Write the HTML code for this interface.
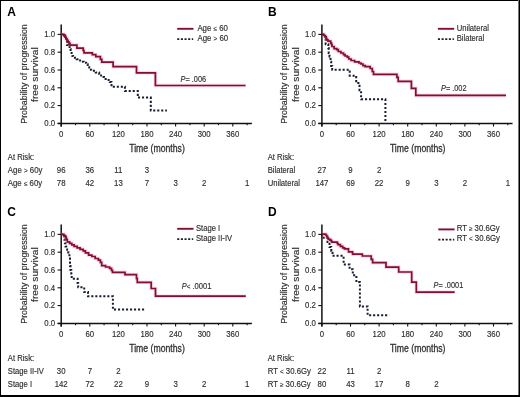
<!DOCTYPE html>
<html><head><meta charset="utf-8"><style>
html,body{margin:0;padding:0;background:#fff;}
body{width:520px;height:397px;overflow:hidden;position:relative;}
svg{position:absolute;left:0;top:0;filter:blur(0.3px);}
text{font-family:"Liberation Sans", sans-serif;fill:#303030;stroke:#303030;stroke-width:0.16px;}
.sm{font-size:8.6px;}
.sym{font-size:7.0px;}
.yl{font-size:9.0px;}
.xl{font-size:10.1px;stroke-width:0.3px;}
.lt{font-size:12px;font-weight:bold;fill:#000;stroke:none;}
.ax{stroke:#111;stroke-width:1.5;fill:none;}
.tk{stroke:#111;stroke-width:1.1;fill:none;}
.rd{stroke:#830e33;stroke-width:1.7;fill:none;stroke-linejoin:miter;}
.rdh{stroke:rgba(235,120,160,0.30);stroke-width:3.6;fill:none;}
.bl{stroke:#161f30;stroke-width:2.0;fill:none;stroke-dasharray:2.1 1.9;}
.rdl{stroke:#830e33;stroke-width:1.9;}
.bll{stroke:#1c2232;stroke-width:1.8;stroke-dasharray:2.1 1.55;}
</style></head><body>
<svg width="520" height="397" viewBox="0 0 520 397">
<rect x="0" y="0" width="520" height="397" fill="#fff"/>
<text x="7.20" y="16.20" class="lt">A</text>
<text transform="translate(26.50,74.00) rotate(-90)" class="yl" text-anchor="middle" textLength="99.5" lengthAdjust="spacingAndGlyphs">Probability of progression</text>
<text transform="translate(37.90,74.60) rotate(-90)" class="yl" text-anchor="middle" textLength="54.6" lengthAdjust="spacingAndGlyphs">free survival</text>
<line x1="61.2" y1="24.50" x2="61.2" y2="126.60" class="ax"/>
<line x1="57.60" y1="123.4" x2="251.87" y2="123.4" class="ax"/>
<line x1="57.60" y1="123.40" x2="61.2" y2="123.40" class="tk"/>
<text x="55.20" y="126.20" class="sm" text-anchor="end" textLength="10.84" lengthAdjust="spacingAndGlyphs">0.0</text>
<line x1="57.60" y1="105.60" x2="61.2" y2="105.60" class="tk"/>
<text x="55.20" y="108.40" class="sm" text-anchor="end" textLength="10.84" lengthAdjust="spacingAndGlyphs">0.2</text>
<line x1="57.60" y1="87.80" x2="61.2" y2="87.80" class="tk"/>
<text x="55.20" y="90.60" class="sm" text-anchor="end" textLength="10.84" lengthAdjust="spacingAndGlyphs">0.4</text>
<line x1="57.60" y1="70.00" x2="61.2" y2="70.00" class="tk"/>
<text x="55.20" y="72.80" class="sm" text-anchor="end" textLength="10.84" lengthAdjust="spacingAndGlyphs">0.6</text>
<line x1="57.60" y1="52.20" x2="61.2" y2="52.20" class="tk"/>
<text x="55.20" y="55.00" class="sm" text-anchor="end" textLength="10.84" lengthAdjust="spacingAndGlyphs">0.8</text>
<line x1="57.60" y1="34.40" x2="61.2" y2="34.40" class="tk"/>
<text x="55.20" y="37.20" class="sm" text-anchor="end" textLength="10.84" lengthAdjust="spacingAndGlyphs">1.0</text>
<line x1="61.20" y1="123.4" x2="61.20" y2="126.60" class="tk"/>
<text x="61.20" y="136.60" class="sm" text-anchor="middle" textLength="4.34" lengthAdjust="spacingAndGlyphs">0</text>
<line x1="75.50" y1="123.4" x2="75.50" y2="125.20" class="tk"/>
<line x1="89.80" y1="123.4" x2="89.80" y2="126.60" class="tk"/>
<text x="89.80" y="136.60" class="sm" text-anchor="middle" textLength="8.68" lengthAdjust="spacingAndGlyphs">60</text>
<line x1="104.10" y1="123.4" x2="104.10" y2="125.20" class="tk"/>
<line x1="118.40" y1="123.4" x2="118.40" y2="126.60" class="tk"/>
<text x="118.40" y="136.60" class="sm" text-anchor="middle" textLength="13.01" lengthAdjust="spacingAndGlyphs">120</text>
<line x1="132.70" y1="123.4" x2="132.70" y2="125.20" class="tk"/>
<line x1="147.00" y1="123.4" x2="147.00" y2="126.60" class="tk"/>
<text x="147.00" y="136.60" class="sm" text-anchor="middle" textLength="13.01" lengthAdjust="spacingAndGlyphs">180</text>
<line x1="161.30" y1="123.4" x2="161.30" y2="125.20" class="tk"/>
<line x1="175.60" y1="123.4" x2="175.60" y2="126.60" class="tk"/>
<text x="175.60" y="136.60" class="sm" text-anchor="middle" textLength="13.01" lengthAdjust="spacingAndGlyphs">240</text>
<line x1="189.90" y1="123.4" x2="189.90" y2="125.20" class="tk"/>
<line x1="204.20" y1="123.4" x2="204.20" y2="126.60" class="tk"/>
<text x="204.20" y="136.60" class="sm" text-anchor="middle" textLength="13.01" lengthAdjust="spacingAndGlyphs">300</text>
<line x1="218.50" y1="123.4" x2="218.50" y2="125.20" class="tk"/>
<line x1="232.80" y1="123.4" x2="232.80" y2="126.60" class="tk"/>
<text x="232.80" y="136.60" class="sm" text-anchor="middle" textLength="13.01" lengthAdjust="spacingAndGlyphs">360</text>
<line x1="247.10" y1="123.4" x2="247.10" y2="125.20" class="tk"/>
<path d="M61.2,34.4H64.3V35.5H65.3V38H66.2V41H67V45H68.5V47H69.6V49.1H70.6V51.5H71.6V54.1H72.4V56H73.1V57.7H76.6V59.2H80.1V61.7H83.7V62.7H86.2V64.2H87.7V67.2H89.2V69.7H91.2V70.7H95.7V72.5H99.2V74.1H101.1V77H104V79H106.8V80H109.8V82.1H111.5V86.8H124.9V90.9H137.8V97.6H150.8V110.4H166.9V110.4" class="bl"/>
<path d="M61.2,34.4H64V35.6H65V37.2H66V38.8H67V40.4H68V41.9H69V43.4H70V45.1H76.9V48.2H83.2V50.5H84V52.8H92.3V54.7H95.8V56.6H100.4V59.3H101.8V62.2H113.1V66.6H136.5V72.8H155.4V85.5H245.6" class="rdh"/>
<path d="M61.2,34.4H64V35.6H65V37.2H66V38.8H67V40.4H68V41.9H69V43.4H70V45.1H76.9V48.2H83.2V50.5H84V52.8H92.3V54.7H95.8V56.6H100.4V59.3H101.8V62.2H113.1V66.6H136.5V72.8H155.4V85.5H245.6" class="rd"/>
<line x1="177.20" y1="28.80" x2="193.50" y2="28.80" class="rdl"/>
<text x="197.40" y="30.60" class="sm" textLength="30.57" lengthAdjust="spacingAndGlyphs">Age <tspan class="sym">≤</tspan> 60</text>
<line x1="177.20" y1="39.10" x2="193.20" y2="39.10" class="bll"/>
<text x="197.40" y="40.60" class="sm" textLength="30.84" lengthAdjust="spacingAndGlyphs">Age <tspan class="sym">&gt;</tspan> 60</text>
<text x="180.60" y="82.20" class="sm" font-style="italic" textLength="4.90" lengthAdjust="spacingAndGlyphs">P</text>
<text x="185.50" y="82.20" class="sm" textLength="20.64" lengthAdjust="spacingAndGlyphs">= .006</text>
<text x="157.00" y="151.70" class="xl" text-anchor="middle" textLength="55.6" lengthAdjust="spacingAndGlyphs">Time (months)</text>
<text x="7.80" y="159.80" class="sm" textLength="26.35" lengthAdjust="spacingAndGlyphs">At Risk:</text>
<text x="7.80" y="173.00" class="sm" textLength="34.66" lengthAdjust="spacingAndGlyphs">Age <tspan class="sym">&gt;</tspan> 60y</text>
<text x="61.20" y="173.00" class="sm" text-anchor="middle" textLength="8.68" lengthAdjust="spacingAndGlyphs">96</text>
<text x="89.80" y="173.00" class="sm" text-anchor="middle" textLength="8.68" lengthAdjust="spacingAndGlyphs">36</text>
<text x="118.40" y="173.00" class="sm" text-anchor="middle" textLength="8.10" lengthAdjust="spacingAndGlyphs">11</text>
<text x="147.00" y="173.00" class="sm" text-anchor="middle" textLength="4.34" lengthAdjust="spacingAndGlyphs">3</text>
<text x="7.80" y="186.10" class="sm" textLength="34.40" lengthAdjust="spacingAndGlyphs">Age <tspan class="sym">≤</tspan> 60y</text>
<text x="61.20" y="186.10" class="sm" text-anchor="middle" textLength="8.68" lengthAdjust="spacingAndGlyphs">78</text>
<text x="89.80" y="186.10" class="sm" text-anchor="middle" textLength="8.68" lengthAdjust="spacingAndGlyphs">42</text>
<text x="118.40" y="186.10" class="sm" text-anchor="middle" textLength="8.68" lengthAdjust="spacingAndGlyphs">13</text>
<text x="147.00" y="186.10" class="sm" text-anchor="middle" textLength="4.34" lengthAdjust="spacingAndGlyphs">7</text>
<text x="175.60" y="186.10" class="sm" text-anchor="middle" textLength="4.34" lengthAdjust="spacingAndGlyphs">3</text>
<text x="204.20" y="186.10" class="sm" text-anchor="middle" textLength="4.34" lengthAdjust="spacingAndGlyphs">2</text>
<text x="247.10" y="186.10" class="sm" text-anchor="middle" textLength="4.34" lengthAdjust="spacingAndGlyphs">1</text>
<text x="267.90" y="16.20" class="lt">B</text>
<text transform="translate(287.20,74.00) rotate(-90)" class="yl" text-anchor="middle" textLength="99.5" lengthAdjust="spacingAndGlyphs">Probability of progression</text>
<text transform="translate(298.60,74.60) rotate(-90)" class="yl" text-anchor="middle" textLength="54.6" lengthAdjust="spacingAndGlyphs">free survival</text>
<line x1="321.9" y1="24.50" x2="321.9" y2="126.60" class="ax"/>
<line x1="318.30" y1="123.4" x2="512.57" y2="123.4" class="ax"/>
<line x1="318.30" y1="123.40" x2="321.9" y2="123.40" class="tk"/>
<text x="315.90" y="126.20" class="sm" text-anchor="end" textLength="10.84" lengthAdjust="spacingAndGlyphs">0.0</text>
<line x1="318.30" y1="105.60" x2="321.9" y2="105.60" class="tk"/>
<text x="315.90" y="108.40" class="sm" text-anchor="end" textLength="10.84" lengthAdjust="spacingAndGlyphs">0.2</text>
<line x1="318.30" y1="87.80" x2="321.9" y2="87.80" class="tk"/>
<text x="315.90" y="90.60" class="sm" text-anchor="end" textLength="10.84" lengthAdjust="spacingAndGlyphs">0.4</text>
<line x1="318.30" y1="70.00" x2="321.9" y2="70.00" class="tk"/>
<text x="315.90" y="72.80" class="sm" text-anchor="end" textLength="10.84" lengthAdjust="spacingAndGlyphs">0.6</text>
<line x1="318.30" y1="52.20" x2="321.9" y2="52.20" class="tk"/>
<text x="315.90" y="55.00" class="sm" text-anchor="end" textLength="10.84" lengthAdjust="spacingAndGlyphs">0.8</text>
<line x1="318.30" y1="34.40" x2="321.9" y2="34.40" class="tk"/>
<text x="315.90" y="37.20" class="sm" text-anchor="end" textLength="10.84" lengthAdjust="spacingAndGlyphs">1.0</text>
<line x1="321.90" y1="123.4" x2="321.90" y2="126.60" class="tk"/>
<text x="321.90" y="136.60" class="sm" text-anchor="middle" textLength="4.34" lengthAdjust="spacingAndGlyphs">0</text>
<line x1="336.20" y1="123.4" x2="336.20" y2="125.20" class="tk"/>
<line x1="350.50" y1="123.4" x2="350.50" y2="126.60" class="tk"/>
<text x="350.50" y="136.60" class="sm" text-anchor="middle" textLength="8.68" lengthAdjust="spacingAndGlyphs">60</text>
<line x1="364.80" y1="123.4" x2="364.80" y2="125.20" class="tk"/>
<line x1="379.10" y1="123.4" x2="379.10" y2="126.60" class="tk"/>
<text x="379.10" y="136.60" class="sm" text-anchor="middle" textLength="13.01" lengthAdjust="spacingAndGlyphs">120</text>
<line x1="393.40" y1="123.4" x2="393.40" y2="125.20" class="tk"/>
<line x1="407.70" y1="123.4" x2="407.70" y2="126.60" class="tk"/>
<text x="407.70" y="136.60" class="sm" text-anchor="middle" textLength="13.01" lengthAdjust="spacingAndGlyphs">180</text>
<line x1="422.00" y1="123.4" x2="422.00" y2="125.20" class="tk"/>
<line x1="436.30" y1="123.4" x2="436.30" y2="126.60" class="tk"/>
<text x="436.30" y="136.60" class="sm" text-anchor="middle" textLength="13.01" lengthAdjust="spacingAndGlyphs">240</text>
<line x1="450.60" y1="123.4" x2="450.60" y2="125.20" class="tk"/>
<line x1="464.90" y1="123.4" x2="464.90" y2="126.60" class="tk"/>
<text x="464.90" y="136.60" class="sm" text-anchor="middle" textLength="13.01" lengthAdjust="spacingAndGlyphs">300</text>
<line x1="479.20" y1="123.4" x2="479.20" y2="125.20" class="tk"/>
<line x1="493.50" y1="123.4" x2="493.50" y2="126.60" class="tk"/>
<text x="493.50" y="136.60" class="sm" text-anchor="middle" textLength="13.01" lengthAdjust="spacingAndGlyphs">360</text>
<line x1="507.80" y1="123.4" x2="507.80" y2="125.20" class="tk"/>
<path d="M321.9,34.4H325V38H325.7V44.3H328.3V48.1H328.7V53H329.5V56.5H330.5V61.7H331.2V66H332.2V69.7H349.7V75.7H356.2V83H359.5V90.3H361.1V99.3H385.4V123.4" class="bl"/>
<path d="M321.9,34.3H323.9V35.5H325.4V36.9H326.2V38.3H326.8V39.8H328V41.2H330.7V43.2H331.5V44.5H332V46.5H334.1V48.7H336.7V49.7H338.3V51.5H340.9V53H343.5V54.6H345.1V56H347.3V57.2H348.8V59H351.1V60.5H354.6V61.8H359V63H361V64H363V65.7H365.2V66.6H370.2V68.5H372.3V71.5H373.5V74.3H396.9V77.3H398.2V81.3H411.4V88.3H415.8V95.4H506V95.4" class="rdh"/>
<path d="M321.9,34.3H323.9V35.5H325.4V36.9H326.2V38.3H326.8V39.8H328V41.2H330.7V43.2H331.5V44.5H332V46.5H334.1V48.7H336.7V49.7H338.3V51.5H340.9V53H343.5V54.6H345.1V56H347.3V57.2H348.8V59H351.1V60.5H354.6V61.8H359V63H361V64H363V65.7H365.2V66.6H370.2V68.5H372.3V71.5H373.5V74.3H396.9V77.3H398.2V81.3H411.4V88.3H415.8V95.4H506V95.4" class="rd"/>
<line x1="437.90" y1="28.80" x2="454.20" y2="28.80" class="rdl"/>
<text x="456.70" y="30.60" class="sm" textLength="32.32" lengthAdjust="spacingAndGlyphs">Unilateral</text>
<line x1="437.90" y1="39.10" x2="453.90" y2="39.10" class="bll"/>
<text x="456.70" y="40.60" class="sm" textLength="27.64" lengthAdjust="spacingAndGlyphs">Bilateral</text>
<text x="441.00" y="91.30" class="sm" font-style="italic" textLength="4.90" lengthAdjust="spacingAndGlyphs">P</text>
<text x="445.90" y="91.30" class="sm" textLength="20.64" lengthAdjust="spacingAndGlyphs">= .002</text>
<text x="417.70" y="151.70" class="xl" text-anchor="middle" textLength="55.6" lengthAdjust="spacingAndGlyphs">Time (months)</text>
<text x="267.70" y="159.80" class="sm" textLength="26.35" lengthAdjust="spacingAndGlyphs">At Risk:</text>
<text x="267.70" y="173.00" class="sm" textLength="27.64" lengthAdjust="spacingAndGlyphs">Bilateral</text>
<text x="321.90" y="173.00" class="sm" text-anchor="middle" textLength="8.68" lengthAdjust="spacingAndGlyphs">27</text>
<text x="350.50" y="173.00" class="sm" text-anchor="middle" textLength="4.34" lengthAdjust="spacingAndGlyphs">9</text>
<text x="379.10" y="173.00" class="sm" text-anchor="middle" textLength="4.34" lengthAdjust="spacingAndGlyphs">2</text>
<text x="267.70" y="186.10" class="sm" textLength="32.32" lengthAdjust="spacingAndGlyphs">Unilateral</text>
<text x="321.90" y="186.10" class="sm" text-anchor="middle" textLength="13.01" lengthAdjust="spacingAndGlyphs">147</text>
<text x="350.50" y="186.10" class="sm" text-anchor="middle" textLength="8.68" lengthAdjust="spacingAndGlyphs">69</text>
<text x="379.10" y="186.10" class="sm" text-anchor="middle" textLength="8.68" lengthAdjust="spacingAndGlyphs">22</text>
<text x="407.70" y="186.10" class="sm" text-anchor="middle" textLength="4.34" lengthAdjust="spacingAndGlyphs">9</text>
<text x="436.30" y="186.10" class="sm" text-anchor="middle" textLength="4.34" lengthAdjust="spacingAndGlyphs">3</text>
<text x="464.90" y="186.10" class="sm" text-anchor="middle" textLength="4.34" lengthAdjust="spacingAndGlyphs">2</text>
<text x="507.80" y="186.10" class="sm" text-anchor="middle" textLength="4.34" lengthAdjust="spacingAndGlyphs">1</text>
<text x="7.20" y="216.20" class="lt">C</text>
<text transform="translate(26.50,274.00) rotate(-90)" class="yl" text-anchor="middle" textLength="99.5" lengthAdjust="spacingAndGlyphs">Probability of progression</text>
<text transform="translate(37.90,274.60) rotate(-90)" class="yl" text-anchor="middle" textLength="54.6" lengthAdjust="spacingAndGlyphs">free survival</text>
<line x1="61.2" y1="224.50" x2="61.2" y2="326.60" class="ax"/>
<line x1="57.60" y1="323.4" x2="251.87" y2="323.4" class="ax"/>
<line x1="57.60" y1="323.40" x2="61.2" y2="323.40" class="tk"/>
<text x="55.20" y="326.20" class="sm" text-anchor="end" textLength="10.84" lengthAdjust="spacingAndGlyphs">0.0</text>
<line x1="57.60" y1="305.60" x2="61.2" y2="305.60" class="tk"/>
<text x="55.20" y="308.40" class="sm" text-anchor="end" textLength="10.84" lengthAdjust="spacingAndGlyphs">0.2</text>
<line x1="57.60" y1="287.80" x2="61.2" y2="287.80" class="tk"/>
<text x="55.20" y="290.60" class="sm" text-anchor="end" textLength="10.84" lengthAdjust="spacingAndGlyphs">0.4</text>
<line x1="57.60" y1="270.00" x2="61.2" y2="270.00" class="tk"/>
<text x="55.20" y="272.80" class="sm" text-anchor="end" textLength="10.84" lengthAdjust="spacingAndGlyphs">0.6</text>
<line x1="57.60" y1="252.20" x2="61.2" y2="252.20" class="tk"/>
<text x="55.20" y="255.00" class="sm" text-anchor="end" textLength="10.84" lengthAdjust="spacingAndGlyphs">0.8</text>
<line x1="57.60" y1="234.40" x2="61.2" y2="234.40" class="tk"/>
<text x="55.20" y="237.20" class="sm" text-anchor="end" textLength="10.84" lengthAdjust="spacingAndGlyphs">1.0</text>
<line x1="61.20" y1="323.4" x2="61.20" y2="326.60" class="tk"/>
<text x="61.20" y="336.60" class="sm" text-anchor="middle" textLength="4.34" lengthAdjust="spacingAndGlyphs">0</text>
<line x1="75.50" y1="323.4" x2="75.50" y2="325.20" class="tk"/>
<line x1="89.80" y1="323.4" x2="89.80" y2="326.60" class="tk"/>
<text x="89.80" y="336.60" class="sm" text-anchor="middle" textLength="8.68" lengthAdjust="spacingAndGlyphs">60</text>
<line x1="104.10" y1="323.4" x2="104.10" y2="325.20" class="tk"/>
<line x1="118.40" y1="323.4" x2="118.40" y2="326.60" class="tk"/>
<text x="118.40" y="336.60" class="sm" text-anchor="middle" textLength="13.01" lengthAdjust="spacingAndGlyphs">120</text>
<line x1="132.70" y1="323.4" x2="132.70" y2="325.20" class="tk"/>
<line x1="147.00" y1="323.4" x2="147.00" y2="326.60" class="tk"/>
<text x="147.00" y="336.60" class="sm" text-anchor="middle" textLength="13.01" lengthAdjust="spacingAndGlyphs">180</text>
<line x1="161.30" y1="323.4" x2="161.30" y2="325.20" class="tk"/>
<line x1="175.60" y1="323.4" x2="175.60" y2="326.60" class="tk"/>
<text x="175.60" y="336.60" class="sm" text-anchor="middle" textLength="13.01" lengthAdjust="spacingAndGlyphs">240</text>
<line x1="189.90" y1="323.4" x2="189.90" y2="325.20" class="tk"/>
<line x1="204.20" y1="323.4" x2="204.20" y2="326.60" class="tk"/>
<text x="204.20" y="336.60" class="sm" text-anchor="middle" textLength="13.01" lengthAdjust="spacingAndGlyphs">300</text>
<line x1="218.50" y1="323.4" x2="218.50" y2="325.20" class="tk"/>
<line x1="232.80" y1="323.4" x2="232.80" y2="326.60" class="tk"/>
<text x="232.80" y="336.60" class="sm" text-anchor="middle" textLength="13.01" lengthAdjust="spacingAndGlyphs">360</text>
<line x1="247.10" y1="323.4" x2="247.10" y2="325.20" class="tk"/>
<path d="M61.2,234.4H64.2V239.5H64.9V243.2H65.5V246.5H67.2V249.8H68.3V254H69.4V257.4H70V266H70.5V270H71.3V275H71.7V278.8H77.6V283H78.2V287.2H84.2V292H88V296.3H112.9V309.6H144.4V309.6" class="bl"/>
<path d="M61.2,234.4H63.9V235.5H65.4V236.5H66V238H66.5V239.6H67.3V241.8H69.6V243.3H71.8V244.8H74.1V246.4H77.1V247.9H80.1V249.4H83.2V250.9H85.4V252.8H88.6V255.2H91.9V256.5H95.2V258.5H98.4V260.2H100.4V262.4H101.7V265.7H105.6V267H109.6V268.3H111.5V270.3H112.5V272.3H125V274.6H136.5V278.5H137.3V282.3H151.2V288.5H155.5V296.2H245.8V296.2" class="rdh"/>
<path d="M61.2,234.4H63.9V235.5H65.4V236.5H66V238H66.5V239.6H67.3V241.8H69.6V243.3H71.8V244.8H74.1V246.4H77.1V247.9H80.1V249.4H83.2V250.9H85.4V252.8H88.6V255.2H91.9V256.5H95.2V258.5H98.4V260.2H100.4V262.4H101.7V265.7H105.6V267H109.6V268.3H111.5V270.3H112.5V272.3H125V274.6H136.5V278.5H137.3V282.3H151.2V288.5H155.5V296.2H245.8V296.2" class="rd"/>
<line x1="177.20" y1="228.80" x2="193.50" y2="228.80" class="rdl"/>
<text x="196.00" y="230.60" class="sm" textLength="24.24" lengthAdjust="spacingAndGlyphs">Stage I</text>
<line x1="177.20" y1="239.10" x2="193.20" y2="239.10" class="bll"/>
<text x="196.00" y="240.60" class="sm" textLength="36.14" lengthAdjust="spacingAndGlyphs">Stage II-IV</text>
<text x="181.80" y="289.00" class="sm" font-style="italic" textLength="4.90" lengthAdjust="spacingAndGlyphs">P</text>
<text x="186.70" y="289.00" class="sm" textLength="24.73" lengthAdjust="spacingAndGlyphs"><tspan class="sym">&lt;</tspan> .0001</text>
<text x="157.00" y="351.70" class="xl" text-anchor="middle" textLength="55.6" lengthAdjust="spacingAndGlyphs">Time (months)</text>
<text x="7.80" y="360.50" class="sm" textLength="26.35" lengthAdjust="spacingAndGlyphs">At Risk:</text>
<text x="7.80" y="373.70" class="sm" textLength="36.14" lengthAdjust="spacingAndGlyphs">Stage II-IV</text>
<text x="61.20" y="373.70" class="sm" text-anchor="middle" textLength="8.68" lengthAdjust="spacingAndGlyphs">30</text>
<text x="89.80" y="373.70" class="sm" text-anchor="middle" textLength="4.34" lengthAdjust="spacingAndGlyphs">7</text>
<text x="118.40" y="373.70" class="sm" text-anchor="middle" textLength="4.34" lengthAdjust="spacingAndGlyphs">2</text>
<text x="7.80" y="386.80" class="sm" textLength="24.24" lengthAdjust="spacingAndGlyphs">Stage I</text>
<text x="61.20" y="386.80" class="sm" text-anchor="middle" textLength="13.01" lengthAdjust="spacingAndGlyphs">142</text>
<text x="89.80" y="386.80" class="sm" text-anchor="middle" textLength="8.68" lengthAdjust="spacingAndGlyphs">72</text>
<text x="118.40" y="386.80" class="sm" text-anchor="middle" textLength="8.68" lengthAdjust="spacingAndGlyphs">22</text>
<text x="147.00" y="386.80" class="sm" text-anchor="middle" textLength="4.34" lengthAdjust="spacingAndGlyphs">9</text>
<text x="175.60" y="386.80" class="sm" text-anchor="middle" textLength="4.34" lengthAdjust="spacingAndGlyphs">3</text>
<text x="204.20" y="386.80" class="sm" text-anchor="middle" textLength="4.34" lengthAdjust="spacingAndGlyphs">2</text>
<text x="247.10" y="386.80" class="sm" text-anchor="middle" textLength="4.34" lengthAdjust="spacingAndGlyphs">1</text>
<text x="267.90" y="216.20" class="lt">D</text>
<text transform="translate(287.20,274.00) rotate(-90)" class="yl" text-anchor="middle" textLength="99.5" lengthAdjust="spacingAndGlyphs">Probability of progression</text>
<text transform="translate(298.60,274.60) rotate(-90)" class="yl" text-anchor="middle" textLength="54.6" lengthAdjust="spacingAndGlyphs">free survival</text>
<line x1="321.9" y1="224.50" x2="321.9" y2="326.60" class="ax"/>
<line x1="318.30" y1="323.4" x2="512.57" y2="323.4" class="ax"/>
<line x1="318.30" y1="323.40" x2="321.9" y2="323.40" class="tk"/>
<text x="315.90" y="326.20" class="sm" text-anchor="end" textLength="10.84" lengthAdjust="spacingAndGlyphs">0.0</text>
<line x1="318.30" y1="305.60" x2="321.9" y2="305.60" class="tk"/>
<text x="315.90" y="308.40" class="sm" text-anchor="end" textLength="10.84" lengthAdjust="spacingAndGlyphs">0.2</text>
<line x1="318.30" y1="287.80" x2="321.9" y2="287.80" class="tk"/>
<text x="315.90" y="290.60" class="sm" text-anchor="end" textLength="10.84" lengthAdjust="spacingAndGlyphs">0.4</text>
<line x1="318.30" y1="270.00" x2="321.9" y2="270.00" class="tk"/>
<text x="315.90" y="272.80" class="sm" text-anchor="end" textLength="10.84" lengthAdjust="spacingAndGlyphs">0.6</text>
<line x1="318.30" y1="252.20" x2="321.9" y2="252.20" class="tk"/>
<text x="315.90" y="255.00" class="sm" text-anchor="end" textLength="10.84" lengthAdjust="spacingAndGlyphs">0.8</text>
<line x1="318.30" y1="234.40" x2="321.9" y2="234.40" class="tk"/>
<text x="315.90" y="237.20" class="sm" text-anchor="end" textLength="10.84" lengthAdjust="spacingAndGlyphs">1.0</text>
<line x1="321.90" y1="323.4" x2="321.90" y2="326.60" class="tk"/>
<text x="321.90" y="336.60" class="sm" text-anchor="middle" textLength="4.34" lengthAdjust="spacingAndGlyphs">0</text>
<line x1="336.20" y1="323.4" x2="336.20" y2="325.20" class="tk"/>
<line x1="350.50" y1="323.4" x2="350.50" y2="326.60" class="tk"/>
<text x="350.50" y="336.60" class="sm" text-anchor="middle" textLength="8.68" lengthAdjust="spacingAndGlyphs">60</text>
<line x1="364.80" y1="323.4" x2="364.80" y2="325.20" class="tk"/>
<line x1="379.10" y1="323.4" x2="379.10" y2="326.60" class="tk"/>
<text x="379.10" y="336.60" class="sm" text-anchor="middle" textLength="13.01" lengthAdjust="spacingAndGlyphs">120</text>
<line x1="393.40" y1="323.4" x2="393.40" y2="325.20" class="tk"/>
<line x1="407.70" y1="323.4" x2="407.70" y2="326.60" class="tk"/>
<text x="407.70" y="336.60" class="sm" text-anchor="middle" textLength="13.01" lengthAdjust="spacingAndGlyphs">180</text>
<line x1="422.00" y1="323.4" x2="422.00" y2="325.20" class="tk"/>
<line x1="436.30" y1="323.4" x2="436.30" y2="326.60" class="tk"/>
<text x="436.30" y="336.60" class="sm" text-anchor="middle" textLength="13.01" lengthAdjust="spacingAndGlyphs">240</text>
<line x1="450.60" y1="323.4" x2="450.60" y2="325.20" class="tk"/>
<line x1="464.90" y1="323.4" x2="464.90" y2="326.60" class="tk"/>
<text x="464.90" y="336.60" class="sm" text-anchor="middle" textLength="13.01" lengthAdjust="spacingAndGlyphs">300</text>
<line x1="479.20" y1="323.4" x2="479.20" y2="325.20" class="tk"/>
<line x1="493.50" y1="323.4" x2="493.50" y2="326.60" class="tk"/>
<text x="493.50" y="336.60" class="sm" text-anchor="middle" textLength="13.01" lengthAdjust="spacingAndGlyphs">360</text>
<line x1="507.80" y1="323.4" x2="507.80" y2="325.20" class="tk"/>
<path d="M321.9,234.4H322.2V237.7H327.5V242.1H329.5V246.9H331.3V251H332.5V255.8H343.6V264.5H349.6V269.2H352.8V275.2H356.4V282.1H359.9V306.4H367.6V315.2H389.2V315.2" class="bl"/>
<path d="M321.9,234.1H325.7V235H326.6V236.3H327.5V238H328.3V239.1H329.8V240.2H331.3V241.3H332V242.2H337.3V243.5H338.1V244.7H340.4V246.3H342.7V247.8H344.5V248.9H348.5V251.8H352.6V254.2H362.3V256H371.2V259.4H372.6V262.7H386V267.1H398.7V272H411.7V282.2H416.3V292.2H454.7V292.2" class="rdh"/>
<path d="M321.9,234.1H325.7V235H326.6V236.3H327.5V238H328.3V239.1H329.8V240.2H331.3V241.3H332V242.2H337.3V243.5H338.1V244.7H340.4V246.3H342.7V247.8H344.5V248.9H348.5V251.8H352.6V254.2H362.3V256H371.2V259.4H372.6V262.7H386V267.1H398.7V272H411.7V282.2H416.3V292.2H454.7V292.2" class="rd"/>
<line x1="438.30" y1="229.40" x2="454.60" y2="229.40" class="rdl"/>
<text x="456.70" y="231.20" class="sm" textLength="43.04" lengthAdjust="spacingAndGlyphs">RT <tspan class="sym">≥</tspan> 30.6Gy</text>
<line x1="438.30" y1="239.70" x2="454.30" y2="239.70" class="bll"/>
<text x="456.70" y="241.20" class="sm" textLength="43.30" lengthAdjust="spacingAndGlyphs">RT <tspan class="sym">&lt;</tspan> 30.6Gy</text>
<text x="433.60" y="288.20" class="sm" font-style="italic" textLength="4.90" lengthAdjust="spacingAndGlyphs">P</text>
<text x="438.50" y="288.20" class="sm" textLength="24.73" lengthAdjust="spacingAndGlyphs">= .0001</text>
<text x="417.70" y="351.70" class="xl" text-anchor="middle" textLength="55.6" lengthAdjust="spacingAndGlyphs">Time (months)</text>
<text x="267.70" y="360.50" class="sm" textLength="26.35" lengthAdjust="spacingAndGlyphs">At Risk:</text>
<text x="267.70" y="373.70" class="sm" textLength="43.30" lengthAdjust="spacingAndGlyphs">RT <tspan class="sym">&lt;</tspan> 30.6Gy</text>
<text x="321.90" y="373.70" class="sm" text-anchor="middle" textLength="8.68" lengthAdjust="spacingAndGlyphs">22</text>
<text x="350.50" y="373.70" class="sm" text-anchor="middle" textLength="8.10" lengthAdjust="spacingAndGlyphs">11</text>
<text x="379.10" y="373.70" class="sm" text-anchor="middle" textLength="4.34" lengthAdjust="spacingAndGlyphs">2</text>
<text x="267.70" y="386.80" class="sm" textLength="43.04" lengthAdjust="spacingAndGlyphs">RT <tspan class="sym">≥</tspan> 30.6Gy</text>
<text x="321.90" y="386.80" class="sm" text-anchor="middle" textLength="8.68" lengthAdjust="spacingAndGlyphs">80</text>
<text x="350.50" y="386.80" class="sm" text-anchor="middle" textLength="8.68" lengthAdjust="spacingAndGlyphs">43</text>
<text x="379.10" y="386.80" class="sm" text-anchor="middle" textLength="8.68" lengthAdjust="spacingAndGlyphs">17</text>
<text x="407.70" y="386.80" class="sm" text-anchor="middle" textLength="4.34" lengthAdjust="spacingAndGlyphs">8</text>
<text x="436.30" y="386.80" class="sm" text-anchor="middle" textLength="4.34" lengthAdjust="spacingAndGlyphs">2</text>
<rect x="0" y="0" width="520" height="1" fill="#000"/>
<rect x="0" y="0" width="1" height="397" fill="#000"/>
<rect x="519" y="0" width="1" height="397" fill="#000"/>
<rect x="518" y="0" width="1" height="397" fill="#777"/>
<rect x="0" y="395" width="520" height="2" fill="#000"/>
</svg>
</body></html>
